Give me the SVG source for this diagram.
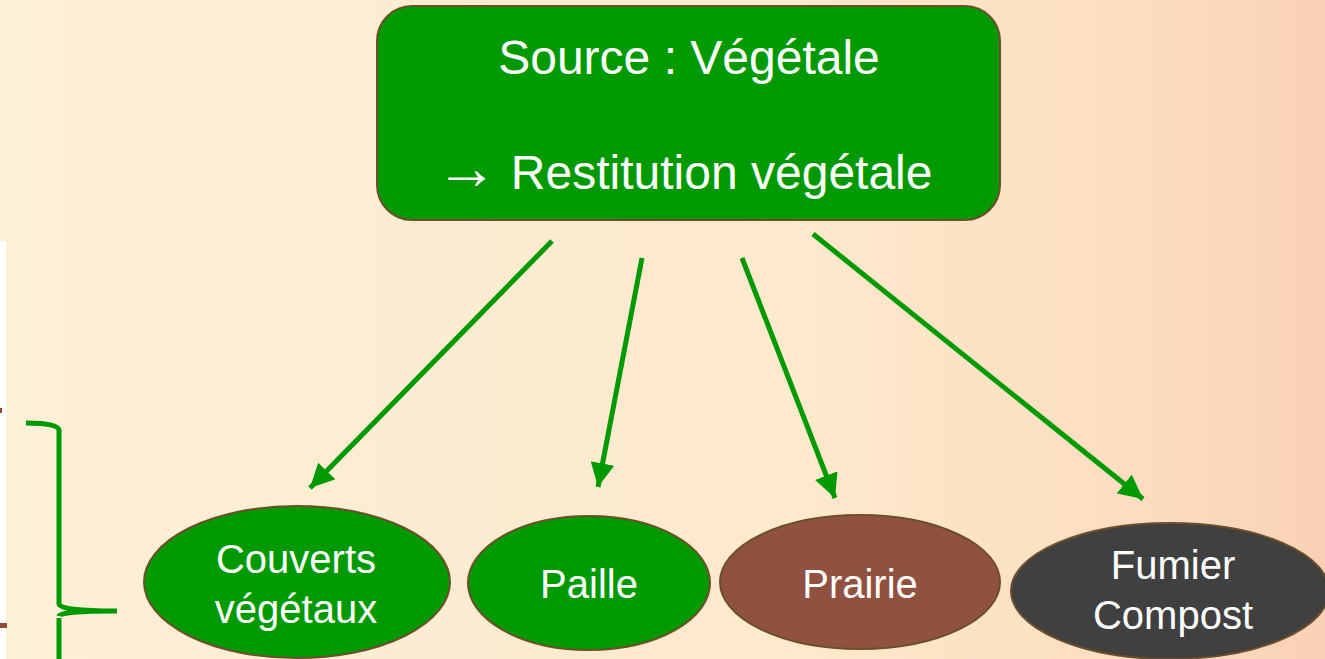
<svg xmlns="http://www.w3.org/2000/svg" width="1325" height="659" viewBox="0 0 1325 659">
<defs>
<linearGradient id="bg" x1="0" y1="0" x2="1" y2="0">
<stop offset="0" stop-color="#fdf0d8"/>
<stop offset="0.6" stop-color="#fde9cc"/>
<stop offset="0.88" stop-color="#fcdcc0"/>
<stop offset="1" stop-color="#f9d0b6"/>
</linearGradient>
<marker id="ah" markerUnits="userSpaceOnUse" markerWidth="26" markerHeight="24" viewBox="0 0 26 24" refX="24" refY="12" orient="auto">
<path d="M0,0 L24,12 L0,24 Z" fill="#009900"/>
</marker>
<style>
.conn{stroke:#009900;stroke-width:5;fill:none;marker-end:url(#ah)}
.t{font-family:"Liberation Sans",Arial,sans-serif;fill:#ffffff;text-anchor:middle}
.big{font-size:48px}
.mid{font-size:40px}
.arr{font-size:62px}
.node{stroke:#6b4e2a;stroke-width:2}
</style>
</defs>
<rect x="0" y="0" width="1325" height="659" fill="url(#bg)"/>
<rect x="0" y="241" width="6" height="418" fill="#ffffff"/>
<rect x="0" y="408" width="2" height="5" fill="#8f4a38"/>
<rect x="0" y="623" width="7" height="5" fill="#8f4a38"/>
<path d="M26,423 Q58,423 59,430 L59,604 Q60,611 117,611 M59,616 Q60,611 117,611 M59,618 L59,659" stroke="#009900" stroke-width="5" fill="none"/>
<g id="connectors">
<line class="conn" x1="552" y1="241" x2="310" y2="488"/>
<line class="conn" x1="642" y1="258" x2="598" y2="487"/>
<line class="conn" x1="742" y1="258" x2="835" y2="498"/>
<line class="conn" x1="813" y1="234" x2="1143" y2="499"/>
</g>
<g id="source">
<rect class="node" x="377" y="6" width="623" height="214" rx="35" fill="#009900" stroke="#6b5a2a"/>
<text class="t big" x="689" y="74">Source : Végétale</text>
<text class="t big" x="684" y="189"><tspan class="arr">→</tspan> Restitution végétale</text>
</g>
<g id="couverts">
<ellipse class="node" cx="297" cy="582" rx="153" ry="76" fill="#009900"/>
<text class="t mid" x="296" y="573">Couverts</text>
<text class="t mid" x="296" y="623">végétaux</text>
</g>
<g id="paille">
<ellipse class="node" cx="589" cy="583" rx="121" ry="67" fill="#009900"/>
<text class="t mid" x="589" y="598">Paille</text>
</g>
<g id="prairie">
<ellipse class="node" cx="860" cy="582" rx="140" ry="67" fill="#915140" stroke="#5a3a2a"/>
<text class="t mid" x="860" y="598">Prairie</text>
</g>
<g id="fumier">
<ellipse class="node" cx="1170" cy="591" rx="159" ry="68" fill="#404040" stroke="#5a3028"/>
<text class="t mid" x="1173" y="579">Fumier</text>
<text class="t mid" x="1173" y="629">Compost</text>
</g>
</svg>
